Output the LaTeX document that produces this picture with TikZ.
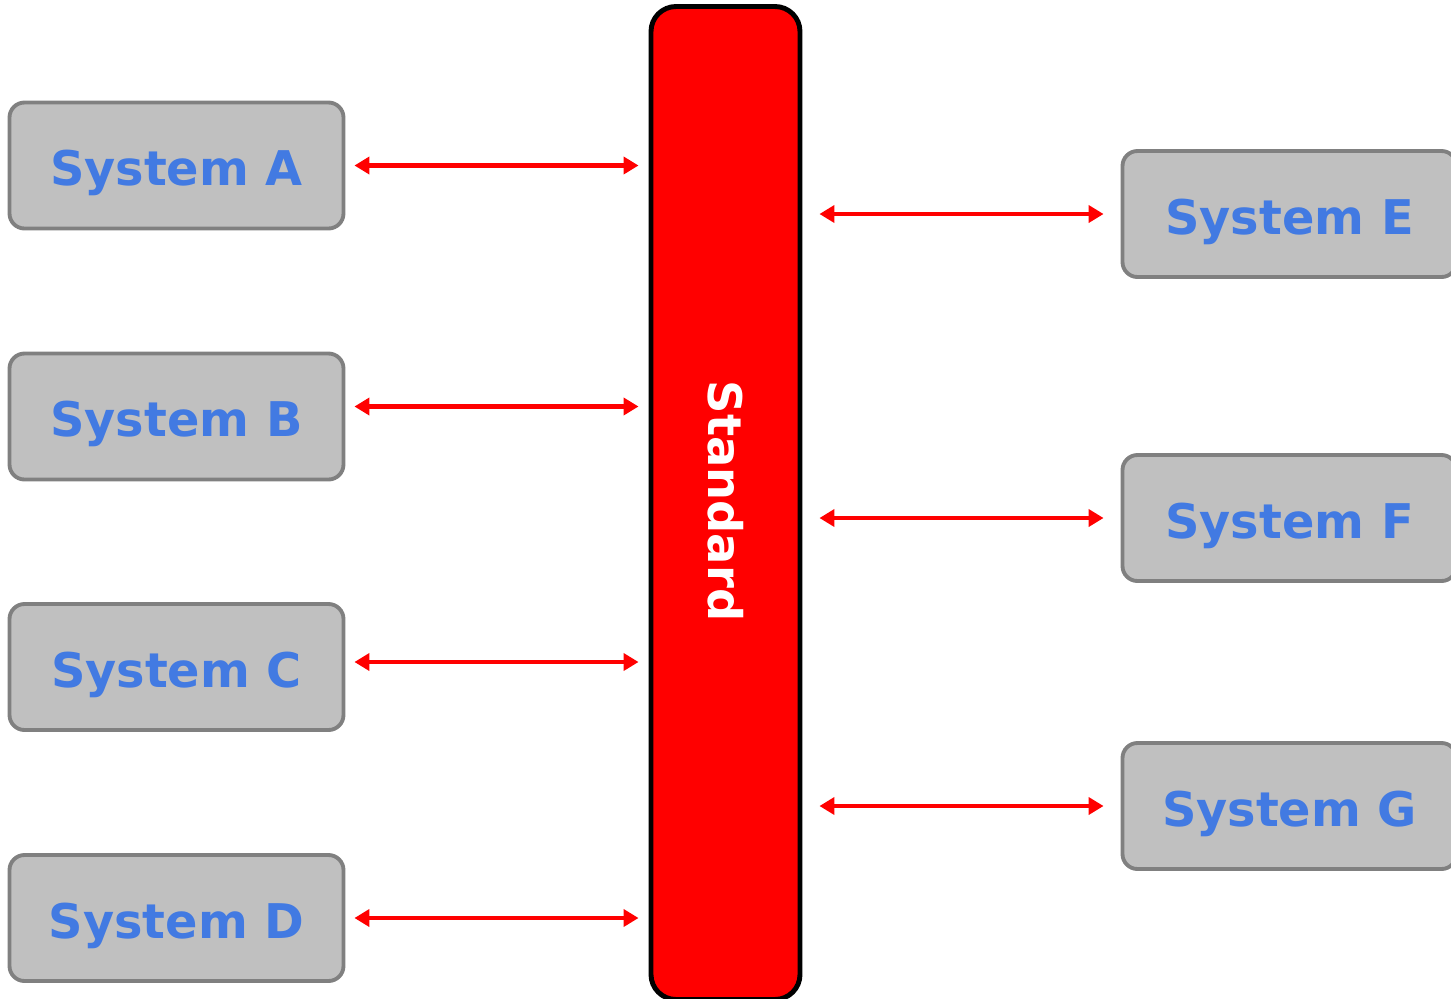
\documentclass[tikz,border=0pt]{standalone}
\usepackage{fontspec}
\setmainfont{DejaVu Sans}
\usetikzlibrary{arrows.meta}

\definecolor{sysgray}{RGB}{192,192,192}
\definecolor{sysedge}{RGB}{128,128,128}
\definecolor{sysblue}{RGB}{66,122,226}

\tikzset{
  system/.style={draw=sysedge, fill=sysgray, line width=1.1pt, rounded corners=0.15cm,
    minimum width=3.34cm, minimum height=1.26cm, text=sysblue,
    text height=0.4cm, text depth=0pt,
    font=\fontsize{13.6}{16}\selectfont\bfseries},
  link/.style={draw=red, line width=1.3pt, {Triangle[length=0.15cm,width=0.17cm]}-{Triangle[length=0.15cm,width=0.17cm]}}
}

\begin{document}
\begin{tikzpicture}
  \useasboundingbox (0,0) rectangle (14.51,-9.98);
  % the shared bus in the middle
  \node[draw=black, fill=red, line width=1.4pt, rounded corners=0.25cm,
        minimum width=1.49cm, minimum height=9.93cm] (std) at (7.255,-5.03) {};
  \node[rotate=-90, text=white, font=\fontsize{13.2}{16}\selectfont\bfseries] (stdlabel) at (7.255,-5.01) {Standard};
  % left column
  \node[system] (A) at (1.765,-1.655) {System A};
  \node[system] (B) at (1.765,-4.165) {System B};
  \node[system] (C) at (1.765,-6.67) {System C};
  \node[system] (D) at (1.765,-9.18) {System D};
  % right column
  \node[system] (E) at (12.895,-2.14) {System E};
  \node[system] (F) at (12.895,-5.18) {System F};
  \node[system] (G) at (12.895,-8.06) {System G};
  % links to the bus
  \foreach \s/\dy in {A/0, B/0.1, C/0.05, D/0}
    \draw[link, shorten <=0.09cm, shorten >=0.1cm] ([yshift=\dy cm]\s.east) -- ([yshift=\dy cm]\s.east -| std.west);
  \foreach \s in {E,F,G}
    \draw[link, shorten <=0.17cm, shorten >=0.17cm] (\s.west -| std.east) -- (\s.west);
\end{tikzpicture}
\end{document}
